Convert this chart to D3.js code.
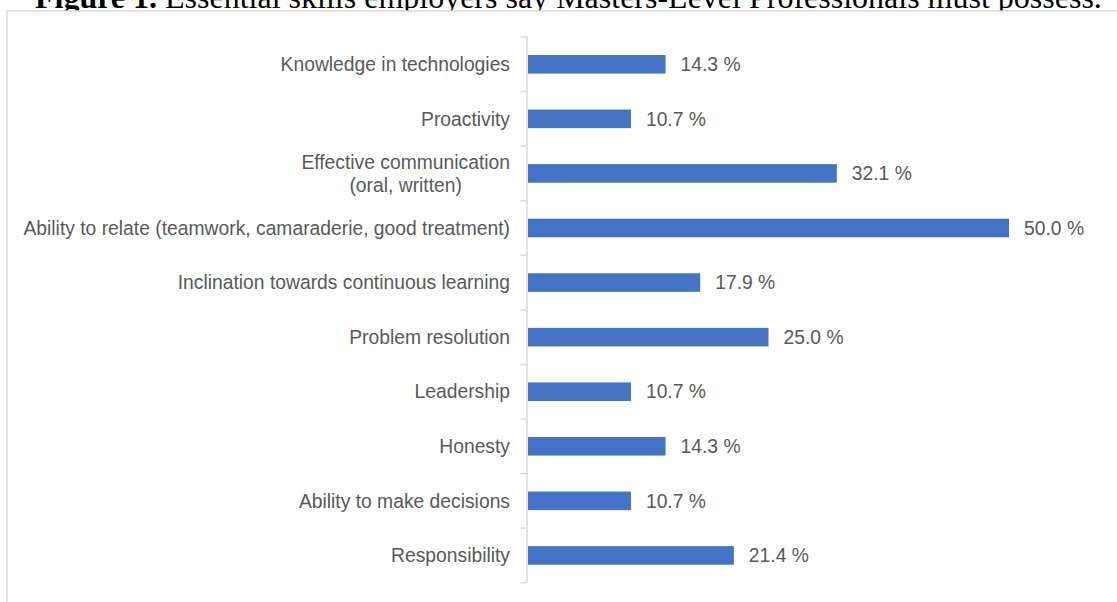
<!DOCTYPE html>
<html>
<head>
<meta charset="utf-8">
<script src="https://cdn.jsdelivr.net/npm/d3@7"></script>
<style>
  html, body { margin: 0; padding: 0; background: #fff; overflow: hidden; }
  svg { display: block; }
</style>
</head>
<body>
<svg id="chart" width="1117" height="602"></svg>
<script>
// Skills named by employers and the share of responses for each
const skills = [
  ["Knowledge in technologies"],
  ["Proactivity"],
  ["Effective communication", "(oral, written)"],
  ["Ability to relate (teamwork, camaraderie, good treatment)"],
  ["Inclination towards continuous learning"],
  ["Problem resolution"],
  ["Leadership"],
  ["Honesty"],
  ["Ability to make decisions"],
  ["Responsibility"]
];
const shares = [14.3, 10.7, 32.1, 50.0, 17.9, 25.0, 10.7, 14.3, 10.7, 21.4];
const titleBold = "Figure 1.";
const titleRest = " Essential skills employers say Masters-Level Professionals must possess.";

const svg = d3.select("#chart");
const sans = "'Liberation Sans', Arial, sans-serif";
const textGray = "#595959";
const fontSize = 19.3;

// Caption above the chart frame
svg.append("text")
  .attr("x", 35).attr("y", 7.5)
  .attr("font-family", "'Liberation Serif', 'Times New Roman', serif")
  .attr("font-size", 32)
  .attr("fill", "#000")
  .call(t => {
    t.append("tspan").attr("font-weight", "bold").text(titleBold);
    t.append("tspan").text(titleRest);
  });

// Chart frame
svg.append("rect")
  .attr("x", 7).attr("y", 11)
  .attr("width", 1200).attr("height", 700)
  .attr("fill", "#fff")
  .attr("stroke", "#d9d9d9").attr("stroke-width", 1.5);

const axisX = 527;
const idx = d3.range(skills.length);

const y = d3.scaleBand()
  .domain(idx)
  .range([37, 582.7])
  .paddingInner(0.66)
  .paddingOuter(0.33);

const x = d3.scaleLinear()
  .domain([0, 50])
  .range([axisX + 1, 1009]);

// Category axis with ticks between rows
const g = svg.append("g");
g.append("line")
  .attr("x1", axisX).attr("x2", axisX)
  .attr("y1", y.range()[0]).attr("y2", y.range()[1])
  .attr("stroke", "#d9d9d9").attr("stroke-width", 1.5);

const step = y.step();
const tickYs = d3.range(skills.length + 1).map(i => y.range()[0] + i * step);
g.selectAll("line.tick")
  .data(tickYs)
  .join("line")
  .attr("class", "tick")
  .attr("x1", axisX - 6.5).attr("x2", axisX)
  .attr("y1", d => d).attr("y2", d => d)
  .attr("stroke", "#d9d9d9").attr("stroke-width", 1.5);

// Bars
g.selectAll("rect.bar")
  .data(idx)
  .join("rect")
  .attr("class", "bar")
  .attr("x", x(0))
  .attr("y", i => y(i))
  .attr("width", i => x(shares[i]) - x(0))
  .attr("height", y.bandwidth())
  .attr("fill", "#4472c4");

// Value labels
g.selectAll("text.value")
  .data(idx)
  .join("text")
  .attr("class", "value")
  .attr("x", i => x(shares[i]) + 15)
  .attr("y", i => y(i) + y.bandwidth() / 2)
  .attr("dy", "0.35em")
  .attr("font-family", sans)
  .attr("font-size", fontSize)
  .attr("fill", textGray)
  .text(i => shares[i].toFixed(1) + " %");

// Category labels, multi-line ones centred as a block against the axis
const labelRight = axisX - 17;
const lineGap = 23;
idx.forEach(i => {
  const lines = skills[i];
  const cy = y(i) + y.bandwidth() / 2;
  const t = g.append("text")
    .attr("font-family", sans)
    .attr("font-size", fontSize)
    .attr("fill", textGray);
  if (lines.length === 1) {
    t.attr("x", labelRight).attr("y", cy).attr("dy", "0.35em")
      .attr("text-anchor", "end").text(lines[0]);
  } else {
    const spans = lines.map((s, k) => t.append("tspan")
      .attr("y", cy + (k - (lines.length - 1) / 2) * lineGap)
      .attr("dy", "0.35em")
      .text(s));
    const widest = d3.max(spans, s => s.node().getComputedTextLength());
    const mid = labelRight - widest / 2;
    spans.forEach(s => s.attr("x", mid).attr("text-anchor", "middle"));
  }
});
</script>
</body>
</html>
